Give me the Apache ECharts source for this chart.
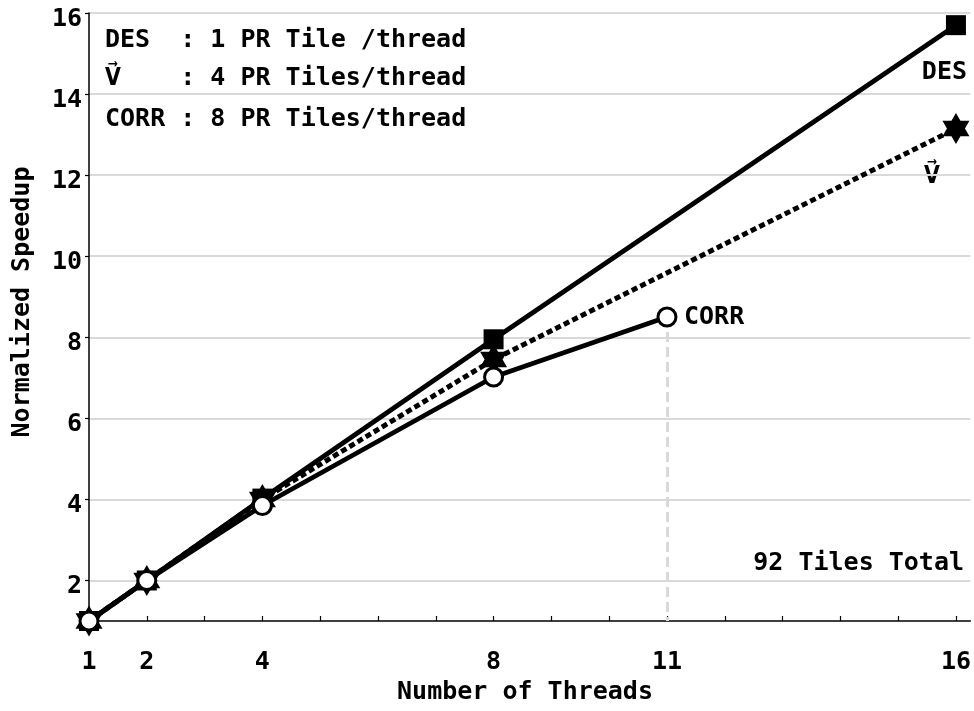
<!DOCTYPE html>
<html><head><meta charset="utf-8">
<script src="https://cdn.jsdelivr.net/npm/echarts@6/dist/echarts.min.js"></script>
<style>html,body{margin:0;padding:0;background:#fff}#c{width:974px;height:711px}</style>
</head><body><div id="c"></div>
<script>
// ---- data ----
const threadsDES = [1, 2, 4, 8, 16];
const speedupDES = [1, 2, 4.02, 7.95, 15.7];
const threadsV = [1, 2, 4, 8, 16];
const speedupV = [1, 2, 4, 7.45, 13.15];
const threadsCORR = [1, 2, 4, 8, 11];
const speedupCORR = [1, 2, 3.85, 7.02, 8.5];
const xTickLabels = [1, 2, 4, 8, 11, 16];
const xMinorTicks = [1, 2, 3, 4, 5, 6, 7, 8, 9, 10, 11, 12, 13, 14, 15, 16];
const yTickLabels = [2, 4, 6, 8, 10, 12, 14, 16];
const legendKeys = ['DES', 'V\u20D7', 'CORR'];
const legendRest = [': 1 PR Tile /thread', ': 4 PR Tiles/thread', ': 8 PR Tiles/thread'];

const FF = '"DejaVu Sans Mono", "DejaVu Sans", "Noto Sans", monospace';
const FS = 25;
const font = 'bold ' + FS + 'px ' + FF;
const starPath = 'path://M50,0 L64.43,25 L93.3,25 L78.87,50 L93.3,75 L64.43,75 L50,100 L35.57,75 L6.7,75 L21.13,50 L6.7,25 L35.57,25 Z';

const zip = (a, b) => a.map((v, i) => [v, b[i]]);

const chart = echarts.init(document.getElementById('c'));
const legendY = [40, 78, 119];
const charW = FS * 0.602;

chart.setOption({
  animation: false,
  backgroundColor: '#fff',
  grid: { left: 89, right: 2, top: 13, bottom: 90, containLabel: false },
  xAxis: {
    type: 'value', min: 1, max: 16.25, interval: 1,
    axisLine: { show: true, lineStyle: { color: '#000', width: 1.5 } },
    axisTick: { show: true, inside: true, length: 5, customValues: xMinorTicks, lineStyle: { color: '#000', width: 1.2 } },
    axisLabel: { customValues: xTickLabels, color: '#000', fontFamily: FF, fontWeight: 'bold', fontSize: FS, margin: 29 },
    splitLine: { show: false }
  },
  yAxis: {
    type: 'value', min: 1, max: 16,
    axisLine: { show: true, lineStyle: { color: '#000', width: 1.5 } },
    axisTick: { show: true, inside: false, length: 4, customValues: yTickLabels, lineStyle: { color: '#000', width: 1.2 } },
    axisLabel: {
      customValues: yTickLabels, color: '#000', fontFamily: FF, fontWeight: 'bold', fontSize: FS, margin: 7,
      formatter: v => '{p|' + v + '}',
      rich: { p: { color: '#000', fontFamily: FF, fontWeight: 'bold', fontSize: FS, padding: [12, 0, 0, 0] } }
    },
    splitLine: { show: true, lineStyle: { color: '#d9d9d9', width: 2 } }
  },
  series: [
    {
      type: 'line', name: 'DES', data: zip(threadsDES, speedupDES), z: 3,
      lineStyle: { color: '#000', width: 4.8 },
      symbol: 'rect', symbolSize: 20,
      itemStyle: { color: '#000', borderWidth: 0 }
    },
    {
      type: 'line', name: 'V', data: zip(threadsV, speedupV), z: 4,
      lineStyle: { color: '#000', width: 5, type: [6, 3.5] },
      symbol: starPath, symbolSize: [27, 31],
      itemStyle: { color: '#000', borderWidth: 0 }
    },
    {
      type: 'line', name: 'CORR', data: zip(threadsCORR, speedupCORR), z: 5,
      lineStyle: { color: '#000', width: 4.8 },
      symbol: 'circle', symbolSize: 18,
      itemStyle: { color: '#fff', borderColor: '#000', borderWidth: 3 },
      markLine: {
        silent: true, symbol: 'none', z: 1,
        label: { show: false },
        lineStyle: { color: '#d9d9d9', width: 3, type: [10, 5] },
        data: [[{ coord: [threadsCORR[4], speedupCORR[4]] }, { coord: [threadsCORR[4], 1] }]]
      }
    }
  ],
  graphic: [
    ...legendKeys.map((t, i) => ({
      type: 'text', x: 105, y: legendY[i], z: 10, scaleX: i === 1 ? 0.82 : 1,
      style: { text: t, font: font, fill: '#000', align: 'left', verticalAlign: 'middle' }
    })),
    ...legendRest.map((t, i) => ({
      type: 'text', x: 105 + 5 * charW, y: legendY[i], z: 10,
      style: { text: t, font: font, fill: '#000', align: 'left', verticalAlign: 'middle' }
    })),
    { type: 'text', x: 967, y: 72, style: { text: 'DES', font: font, fill: '#000', align: 'right', verticalAlign: 'middle' } },
    { type: 'text', x: 932, y: 176, scaleX: 0.82, style: { text: 'V\u20D7', font: font, fill: '#000', align: 'center', verticalAlign: 'middle' } },
    { type: 'text', x: 684, y: 317, style: { text: 'CORR', font: font, fill: '#000', align: 'left', verticalAlign: 'middle' } },
    { type: 'text', x: 964, y: 563, style: { text: '92 Tiles Total', font: font, fill: '#000', align: 'right', verticalAlign: 'middle' } },
    { type: 'text', x: 525, y: 692, style: { text: 'Number of Threads', font: font, fill: '#000', align: 'center', verticalAlign: 'middle' } },
    { type: 'text', x: 22, y: 302, rotation: Math.PI / 2, style: { text: 'Normalized Speedup', font: font, fill: '#000', align: 'center', verticalAlign: 'middle' } }
  ]
});
</script></body></html>
